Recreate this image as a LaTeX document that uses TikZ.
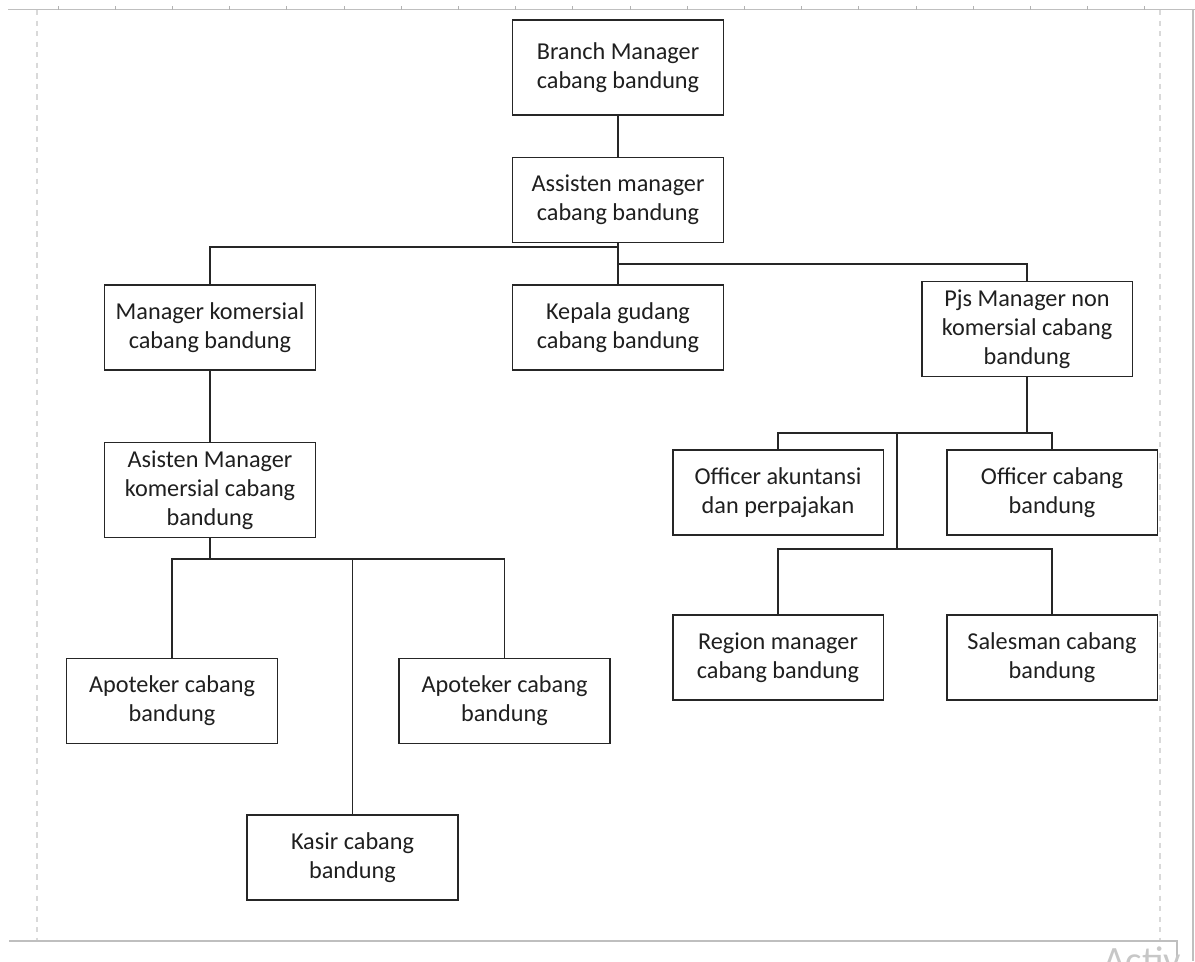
\documentclass[tikz,border=0pt]{standalone}
\usepackage{fontspec}
\setmainfont{Carlito}
\usetikzlibrary{positioning}

\begin{document}
\begin{tikzpicture}[x=0.02cm,y=-0.02cm]
\tikzset{
  orgbox/.style={rectangle,draw=black!85,line width=1.1pt,minimum width=4.22cm,minimum height=1.7cm,
    align=center,inner sep=2pt,text=black!88,font=\fontsize{13.8}{16.5}\selectfont},
  tallbox/.style={orgbox,minimum height=1.9cm},
  link/.style={draw=black!85,line width=1.1pt},
  pageline/.style={draw=black!25,line width=0.9pt},
  marginline/.style={draw=black!15,line width=0.7pt,dashed}
}
\useasboundingbox (0,0) rectangle (1195,961);
% page frame of the editor
\draw[pageline] (8,9.5) -- (1195,9.5);
\foreach \tx in {0,...,19}
  \draw[draw=black!30,line width=0.5pt] (58+57.2*\tx,6) -- (58+57.2*\tx,9.5);
\draw[marginline] (37,10) -- (37,940);
\draw[marginline] (1160,10) -- (1160,940);
\draw[pageline] (1193,10) -- (1193,961);
\draw[pageline] (9,941) -- (1177,941) -- (1177,961);
\begin{scope}
\clip (1178,942) rectangle (1195,961);
\node[anchor=base west,inner sep=0pt,text=black!22,font=\fontsize{22}{24}\selectfont] (wm) at (1103,973) {Activ};
\end{scope}
\begin{scope}
\clip (1000,942) rectangle (1177,961);
\node[anchor=base west,inner sep=0pt,text=black!22,font=\fontsize{22}{24}\selectfont] (wmb) at (1103,973) {Activ};
\end{scope}

% boxes
\node[tallbox] (n_bm) at (618,67.5) {Branch Manager\\cabang bandung};
\node[orgbox] (n_am) at (618,200) {Assisten manager\\cabang bandung};
\node[orgbox] (n_mk) at (210,327.5) {Manager komersial\\cabang bandung};
\node[orgbox] (n_kg) at (618,327.5) {Kepala gudang\\cabang bandung};
\node[tallbox] (n_pjs) at (1027,329) {Pjs Manager non\\komersial cabang\\bandung};
\node[tallbox] (n_amk) at (210,490) {Asisten Manager\\komersial cabang\\bandung};
\node[orgbox] (n_ap1) at (172,701) {Apoteker cabang\\bandung};
\node[orgbox] (n_ap2) at (504.5,701) {Apoteker cabang\\bandung};
\node[orgbox] (n_ks) at (352.5,857.5) {Kasir cabang\\bandung};
\node[orgbox] (n_oa) at (778,492.5) {Officer akuntansi\\dan perpajakan};
\node[orgbox] (n_oc) at (1052,492.5) {Officer cabang\\bandung};
\node[orgbox] (n_rm) at (778,657.5) {Region manager\\cabang bandung};
\node[orgbox] (n_sm) at (1052,657.5) {Salesman cabang\\bandung};

% junctions
\coordinate (j_left) at (618,247);
\coordinate (j_right) at (618,264);
\coordinate (j_kom) at (210,559);
\coordinate (j_pjs) at (1027,433);
\coordinate (j_mid) at (897,433);
\coordinate (j_low) at (897,549);

\draw[link] (n_bm) -- (n_am);
\draw[link] (n_am) -- (n_kg);
\draw[link] (j_left) -| (n_mk.north);
\draw[link] (j_right) -| (n_pjs.north);
\draw[link] (n_mk) -- (n_amk);
\draw[link] (n_amk.south) -- (j_kom);
\draw[link] (n_ap1.north) |- (j_kom);
\draw[link] (n_ap2.north) |- (j_kom);
\draw[link] (j_kom -| n_ks.north) -- (n_ks.north);
\draw[link] (n_pjs.south) -- (j_pjs);
\draw[link] (n_oa.north) |- (j_pjs);
\draw[link] (n_oc.north) |- (j_pjs);
\draw[link] (j_mid) -- (j_low);
\draw[link] (n_rm.north) |- (j_low);
\draw[link] (n_sm.north) |- (j_low);
\end{tikzpicture}
\end{document}
